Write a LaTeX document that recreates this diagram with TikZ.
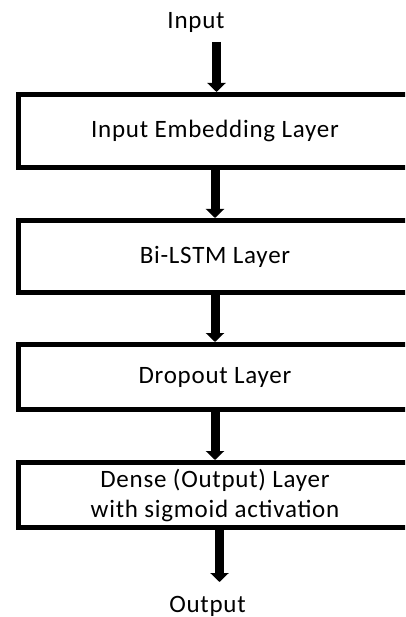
\documentclass[tikz,border=0pt]{standalone}
\usepackage{fontspec}
\setmainfont{Carlito}[LetterSpace=3]
\usetikzlibrary{arrows.meta}
\tikzset{
  layer/.style={draw=black, line width=5pt, minimum width=394pt, inner sep=0pt,
    font=\fontsize{25}{30}\selectfont, align=center, fill=white},
  lbl/.style={font=\fontsize{25}{30}\selectfont, inner sep=0pt, anchor=base},
  arr/.style={line width=9pt, -{Triangle[width=18pt,length=9pt]}}
}
\begin{document}
\begin{tikzpicture}[x=1pt,y=-1pt]
\clip (0,0) rectangle (405,617);
\fill[white] (0,0) rectangle (405,617);
\node[lbl] (in) at (196,29) {Input};
\node[layer, minimum height=73.5pt] (b1) at (215,131.25) {Input Embedding Layer};
\node[layer, minimum height=72pt] (b2) at (215,256.5) {Bi-LSTM Layer};
\node[layer, minimum height=65pt] (b3) at (215,377) {Dropout Layer};
\node[layer, minimum height=65pt] (b4) at (215,495) {Dense (Output) Layer\\with sigmoid activation};
\node[lbl] (out) at (207.5,612) {Output};
\coordinate (a0) at (216.5,42);
\coordinate (a5) at (219.5,582);
\draw[arr] (a0) -- (a0 |- b1.north);
\draw[arr] (b1.south) -- (b2.north);
\draw[arr] (b2.south) -- (b3.north);
\draw[arr] (b3.south) -- (b4.north);
\draw[arr] (b4.south -| a5) -- (a5);
\end{tikzpicture}
\end{document}
